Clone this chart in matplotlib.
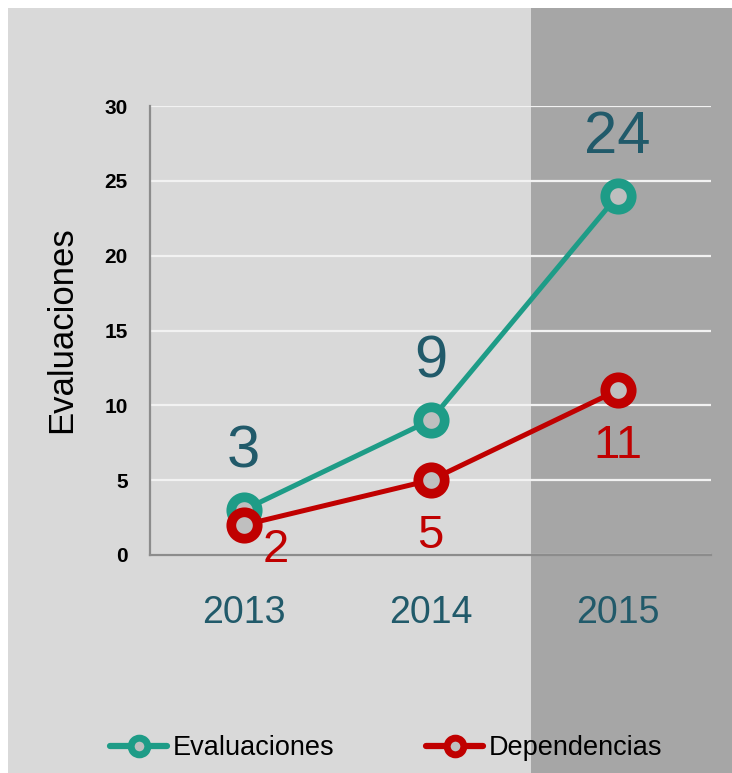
import matplotlib.pyplot as plt
from matplotlib.patches import Rectangle
from matplotlib.lines import Line2D

years = ['2013', '2014', '2015']
evaluaciones = [3, 9, 24]
dependencias = [2, 5, 11]
y_ticks = [0, 5, 10, 15, 20, 25, 30]

teal = '#1e9c87'
red = '#c00000'
label_blue = '#215a6a'
face = '#bfbfbf'

plt.rcParams['font.family'] = ['Liberation Sans', 'DejaVu Sans']

W, H = 732, 773
fig = plt.figure(figsize=(W / 100, H / 100), dpi=100)
fig.patch.set_facecolor('white')

# background panels
fig.patches.append(Rectangle((8 / W, 0), 1 - 8 / W, 1 - 8 / H, transform=fig.transFigure,
                             facecolor='#d9d9d9', edgecolor='none', zorder=-10))
fig.patches.append(Rectangle((531 / W, 0), 1 - 531 / W, 1 - 8 / H, transform=fig.transFigure,
                             facecolor='#a6a6a6', edgecolor='none', zorder=-9))

ax = fig.add_axes([150 / W, 1 - 555 / H, (711 - 150) / W, (555 - 106) / H])
ax.set_facecolor('none')

x = list(range(len(years)))
ax.plot(x, evaluaciones, color=teal, lw=3.6, marker='o', ms=19, mew=7,
        mec=teal, mfc=face, zorder=3, solid_capstyle='round')
ax.plot(x, dependencias, color=red, lw=3.6, marker='o', ms=19, mew=7,
        mec=red, mfc=face, zorder=4, solid_capstyle='round')

for xi, v in zip(x, evaluaciones):
    ax.annotate(str(v), (xi, v), xytext=(0, 42), textcoords='offset points',
                ha='center', va='center', fontsize=43, color=label_blue)

red_offsets = [(23, -18), (0, -40), (0, -40)]
for xi, v, off in zip(x, dependencias, red_offsets):
    ax.annotate(str(v), (xi, v), xytext=off, textcoords='offset points',
                ha='center', va='center', fontsize=34, color=red)

ax.set_xlim(-0.5, 2.5)
ax.set_ylim(0, 30)
ax.set_yticks(y_ticks)
ax.set_xticks(x)
ax.set_xticklabels(years, fontsize=27, color=label_blue)
ax.tick_params(axis='x', length=0, pad=29)
ax.tick_params(axis='y', length=0, pad=16, labelsize=15)
for t in ax.get_yticklabels():
    t.set_fontweight('bold')

ax.grid(axis='y', color='#f2f2f2', lw=1.6, zorder=1)
ax.set_axisbelow(True)
for s in ['top', 'right']:
    ax.spines[s].set_visible(False)
for s in ['left', 'bottom']:
    ax.spines[s].set_color('#8c8c8c')
    ax.spines[s].set_linewidth(1.6)

fig.text(61.5 / W, 1 - 330 / H, 'Evaluaciones', rotation=90, ha='center', va='center',
         fontsize=25, color='black')

handles = [
    Line2D([], [], color=teal, lw=4.5, marker='o', ms=12, mew=5, mec=teal, mfc=face,
           solid_capstyle='round'),
    Line2D([], [], color=red, lw=4.5, marker='o', ms=12, mew=5, mec=red, mfc=face,
           solid_capstyle='round'),
]
fig.legend(handles, ['Evaluaciones', 'Dependencias'], loc='center',
           bbox_to_anchor=(386 / W, 1 - 748 / H), ncol=2, frameon=False,
           fontsize=19.5, handlelength=2.1, handletextpad=0.2, columnspacing=3.4)

fig.savefig('out.png', dpi=100)
